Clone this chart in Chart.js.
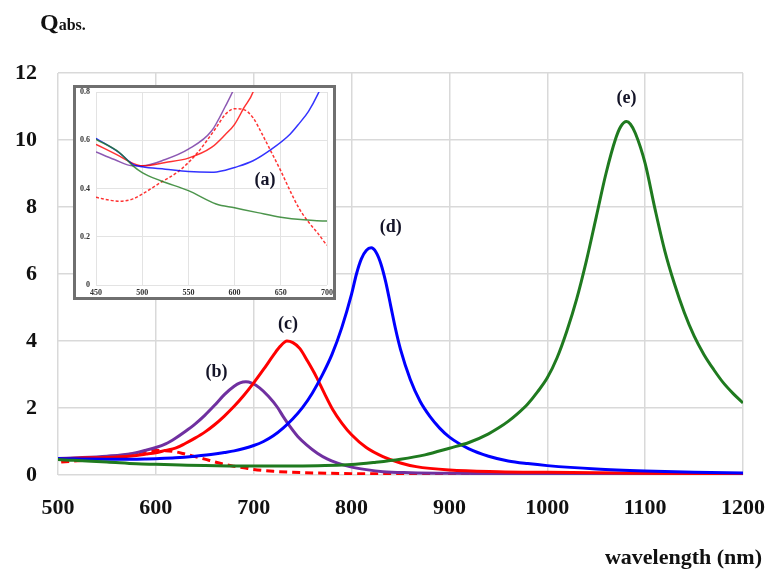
<!DOCTYPE html>
<html>
<head>
<meta charset="utf-8">
<script src="https://cdn.jsdelivr.net/npm/chart.js@4.4.1/dist/chart.umd.min.js"></script>
<style>
  body { margin: 0; background: #fff; }
  #wrap { position: relative; width: 769px; height: 570px; font-family: "Liberation Serif", "Times New Roman", serif; font-weight: bold; color: #111; }
  #mainChart { position: absolute; left: 0; top: 0; }
  #inset { position: absolute; left: 73px; top: 85px; width: 257px; height: 209px; border: 3px solid #6f6f6f; background: #fff; }
  #qlabel { position: absolute; left: 40px; top: 9px; font-size: 24px; }
  #qlabel span { font-size: 16px; }
  #xtitle { position: absolute; right: 7px; top: 544px; font-size: 22px; }
</style>
</head>
<body>
<div id="wrap">
  <canvas id="mainChart" width="769" height="570"></canvas>
  <div id="inset"><canvas id="insetChart" width="257" height="209"></canvas></div>
  <div id="qlabel">Q<span>abs.</span></div>
  <div id="xtitle">wavelength (nm)</div>
</div>
<script>
// wavelengths (nm) and absorption efficiencies
const waveA = [450, 460, 475, 490, 500, 520, 540, 560, 580, 590, 600, 610, 620, 630, 640, 650, 660, 670, 680, 690, 700, 720, 750, 800, 850, 900, 1000, 1100, 1200];
const qA    = [0.364, 0.355, 0.347, 0.357, 0.377, 0.425, 0.473, 0.549, 0.652, 0.707, 0.731, 0.727, 0.693, 0.624, 0.549, 0.473, 0.391, 0.316, 0.261, 0.215, 0.165, 0.11, 0.07, 0.04, 0.03, 0.02, 0.015, 0.01, 0.01];

const waveB = [450, 470, 490, 500, 525, 550, 575, 590, 600, 610, 620, 630, 640, 650, 660, 670, 680, 686, 692, 698, 706, 715, 724, 730, 737, 745, 754, 765, 775, 785, 798, 815, 832, 860, 900, 1000, 1200];
const qB    = [0.552, 0.52, 0.494, 0.494, 0.52, 0.563, 0.638, 0.741, 0.82, 0.93, 1.1, 1.3, 1.52, 1.78, 2.08, 2.4, 2.65, 2.75, 2.78, 2.74, 2.6, 2.35, 2.03, 1.75, 1.45, 1.15, 0.9, 0.65, 0.48, 0.36, 0.25, 0.16, 0.1, 0.07, 0.05, 0.03, 0.02];

const waveC = [450, 475, 490, 500, 525, 550, 575, 590, 600, 610, 620, 630, 640, 650, 660, 670, 680, 690, 700, 710, 720, 727, 734, 740, 747, 755, 764, 772, 781, 790, 800, 815, 832, 850, 866, 900, 950, 1000, 1100, 1200];
const qC    = [0.583, 0.535, 0.504, 0.494, 0.508, 0.526, 0.57, 0.624, 0.666, 0.734, 0.8, 0.94, 1.1, 1.28, 1.5, 1.76, 2.05, 2.38, 2.75, 3.15, 3.57, 3.84, 4.0, 3.95, 3.78, 3.4, 2.93, 2.45, 1.94, 1.55, 1.2, 0.82, 0.55, 0.36, 0.25, 0.15, 0.1, 0.08, 0.05, 0.04];

const waveD = [450, 475, 490, 500, 525, 550, 575, 590, 600, 620, 640, 660, 670, 680, 690, 700, 710, 720, 730, 740, 750, 760, 770, 780, 790, 800, 805, 810, 815, 820, 825, 830, 835, 840, 845, 850, 860, 870, 880, 890, 900, 920, 940, 960, 980, 1000, 1050, 1100, 1150, 1200];
const qD    = [0.608, 0.549, 0.5, 0.49, 0.48, 0.47, 0.467, 0.476, 0.487, 0.515, 0.563, 0.625, 0.67, 0.72, 0.79, 0.88, 1.0, 1.17, 1.4, 1.68, 2.02, 2.45, 2.98, 3.6, 4.4, 5.4, 6.0, 6.45, 6.7, 6.78, 6.65, 6.3, 5.75, 5.05, 4.35, 3.75, 2.85, 2.2, 1.75, 1.4, 1.13, 0.78, 0.56, 0.42, 0.34, 0.28, 0.18, 0.12, 0.08, 0.06];

const waveE = [450, 475, 490, 500, 520, 550, 580, 600, 625, 650, 675, 700, 750, 800, 825, 850, 875, 900, 920, 940, 950, 960, 970, 980, 990, 1000, 1010, 1020, 1030, 1040, 1050, 1060, 1070, 1075, 1081, 1085, 1090, 1100, 1110, 1120, 1130, 1140, 1150, 1160, 1170, 1180, 1190, 1200];
const qE    = [0.604, 0.55, 0.494, 0.466, 0.432, 0.391, 0.336, 0.32, 0.3, 0.281, 0.27, 0.265, 0.27, 0.31, 0.38, 0.47, 0.6, 0.8, 0.97, 1.23, 1.4, 1.6, 1.84, 2.12, 2.48, 2.9, 3.5, 4.3, 5.25, 6.4, 7.7, 9.0, 10.05, 10.4, 10.55, 10.47, 10.2, 9.3, 7.95, 6.7, 5.7, 4.85, 4.15, 3.6, 3.15, 2.75, 2.43, 2.15];

const mainXTicks = [500, 600, 700, 800, 900, 1000, 1100, 1200];
const mainYTicks = [0, 2, 4, 6, 8, 10, 12];
const insetXTicks = [450, 500, 550, 600, 650, 700];
const insetYTicks = [0, 0.2, 0.4, 0.6, 0.8];

const curves = [
  { wave: waveE, q: qE, color: '#1f7a1f', dashed: false },
  { wave: waveD, q: qD, color: '#0000ff', dashed: false },
  { wave: waveC, q: qC, color: '#ff0000', dashed: false },
  { wave: waveB, q: qB, color: '#7030a0', dashed: false },
  { wave: waveA, q: qA, color: '#ff0000', dashed: true }
];

const serif = '"Liberation Serif", "Times New Roman", serif';

function makeDatasets(width, dash, alpha) {
  return curves.map(c => ({
    data: c.wave.map((w, i) => ({ x: w, y: c.q[i] })),
    borderColor: alpha ? c.color + alpha : c.color,
    borderWidth: width,
    borderDash: c.dashed ? dash : [],
    pointRadius: 0,
    cubicInterpolationMode: 'monotone',
    fill: false
  }));
}

// draws the (a)..(e) tags at data positions
const curveLabels = {
  id: 'curveLabels',
  afterDatasetsDraw(chart, args, opts) {
    const ctx = chart.ctx;
    ctx.save();
    ctx.font = opts.font;
    ctx.fillStyle = '#141428';
    ctx.textAlign = 'center';
    ctx.textBaseline = 'middle';
    opts.items.forEach(it => {
      ctx.fillText(it.text, chart.scales.x.getPixelForValue(it.x), chart.scales.y.getPixelForValue(it.y));
    });
    ctx.restore();
  }
};

new Chart(document.getElementById('mainChart'), {
  type: 'line',
  data: { datasets: makeDatasets(3, [8, 5]) },
  plugins: [curveLabels],
  options: {
    responsive: false,
    animation: false,
    layout: { padding: { top: 73, right: 26, left: 0, bottom: 0 } },
    plugins: {
      legend: { display: false },
      tooltip: { enabled: false },
      curveLabels: {
        font: 'bold 18px ' + serif,
        items: [
          { text: '(b)', x: 662, y: 3.07 },
          { text: '(c)', x: 735, y: 4.5 },
          { text: '(d)', x: 840, y: 7.4 },
          { text: '(e)', x: 1081, y: 11.25 }
        ]
      }
    },
    scales: {
      x: {
        type: 'linear', min: 500, max: 1200,
        afterBuildTicks: s => { s.ticks = mainXTicks.map(v => ({ value: v })); },
        afterFit: s => { s.height = 95; s.paddingLeft = 0; s.paddingRight = 0; },
        grid: { color: '#d9d9d9', lineWidth: 1.5, drawTicks: false },
        border: { display: false },
        ticks: { padding: 20, maxRotation: 0, color: '#111', font: { family: serif, size: 22, weight: 'bold' },
                 callback: v => String(v) }
      },
      y: {
        min: 0, max: 12,
        afterBuildTicks: s => { s.ticks = mainYTicks.map(v => ({ value: v })); },
        afterFit: s => { s.width = 58; s.paddingTop = 0; s.paddingBottom = 0; },
        grid: { color: '#d9d9d9', lineWidth: 1.5, drawTicks: false },
        border: { display: false },
        ticks: { padding: 21, color: '#111', font: { family: serif, size: 22, weight: 'bold' },
                 callback: v => String(v) }
      }
    }
  }
});

new Chart(document.getElementById('insetChart'), {
  type: 'line',
  data: { datasets: makeDatasets(1.5, [3, 2], 'cc') },
  plugins: [curveLabels],
  options: {
    responsive: false,
    animation: false,
    layout: { padding: { top: 4, right: 6, left: 0, bottom: 0 } },
    plugins: {
      legend: { display: false },
      tooltip: { enabled: false },
      curveLabels: {
        font: 'bold 18px ' + serif,
        items: [{ text: '(a)', x: 633, y: 0.432 }]
      }
    },
    scales: {
      x: {
        type: 'linear', min: 450, max: 700,
        afterBuildTicks: s => { s.ticks = insetXTicks.map(v => ({ value: v })); },
        afterFit: s => { s.height = 12; s.paddingLeft = 0; s.paddingRight = 0; },
        grid: { color: '#e3e3e3', lineWidth: 1, drawTicks: false },
        border: { display: false },
        ticks: { padding: 3, maxRotation: 0, color: '#333', font: { family: serif, size: 8, weight: 'bold' },
                 callback: v => String(v) }
      },
      y: {
        min: 0, max: 0.8,
        afterBuildTicks: s => { s.ticks = insetYTicks.map(v => ({ value: v })); },
        afterFit: s => { s.width = 20; s.paddingTop = 0; s.paddingBottom = 0; },
        grid: { color: '#e3e3e3', lineWidth: 1, drawTicks: false },
        border: { display: false },
        ticks: { padding: 6, color: '#333', font: { family: serif, size: 8, weight: 'bold' },
                 callback: v => v === 0 ? '0' : v.toFixed(1) }
      }
    }
  }
});
</script>
</body>
</html>
